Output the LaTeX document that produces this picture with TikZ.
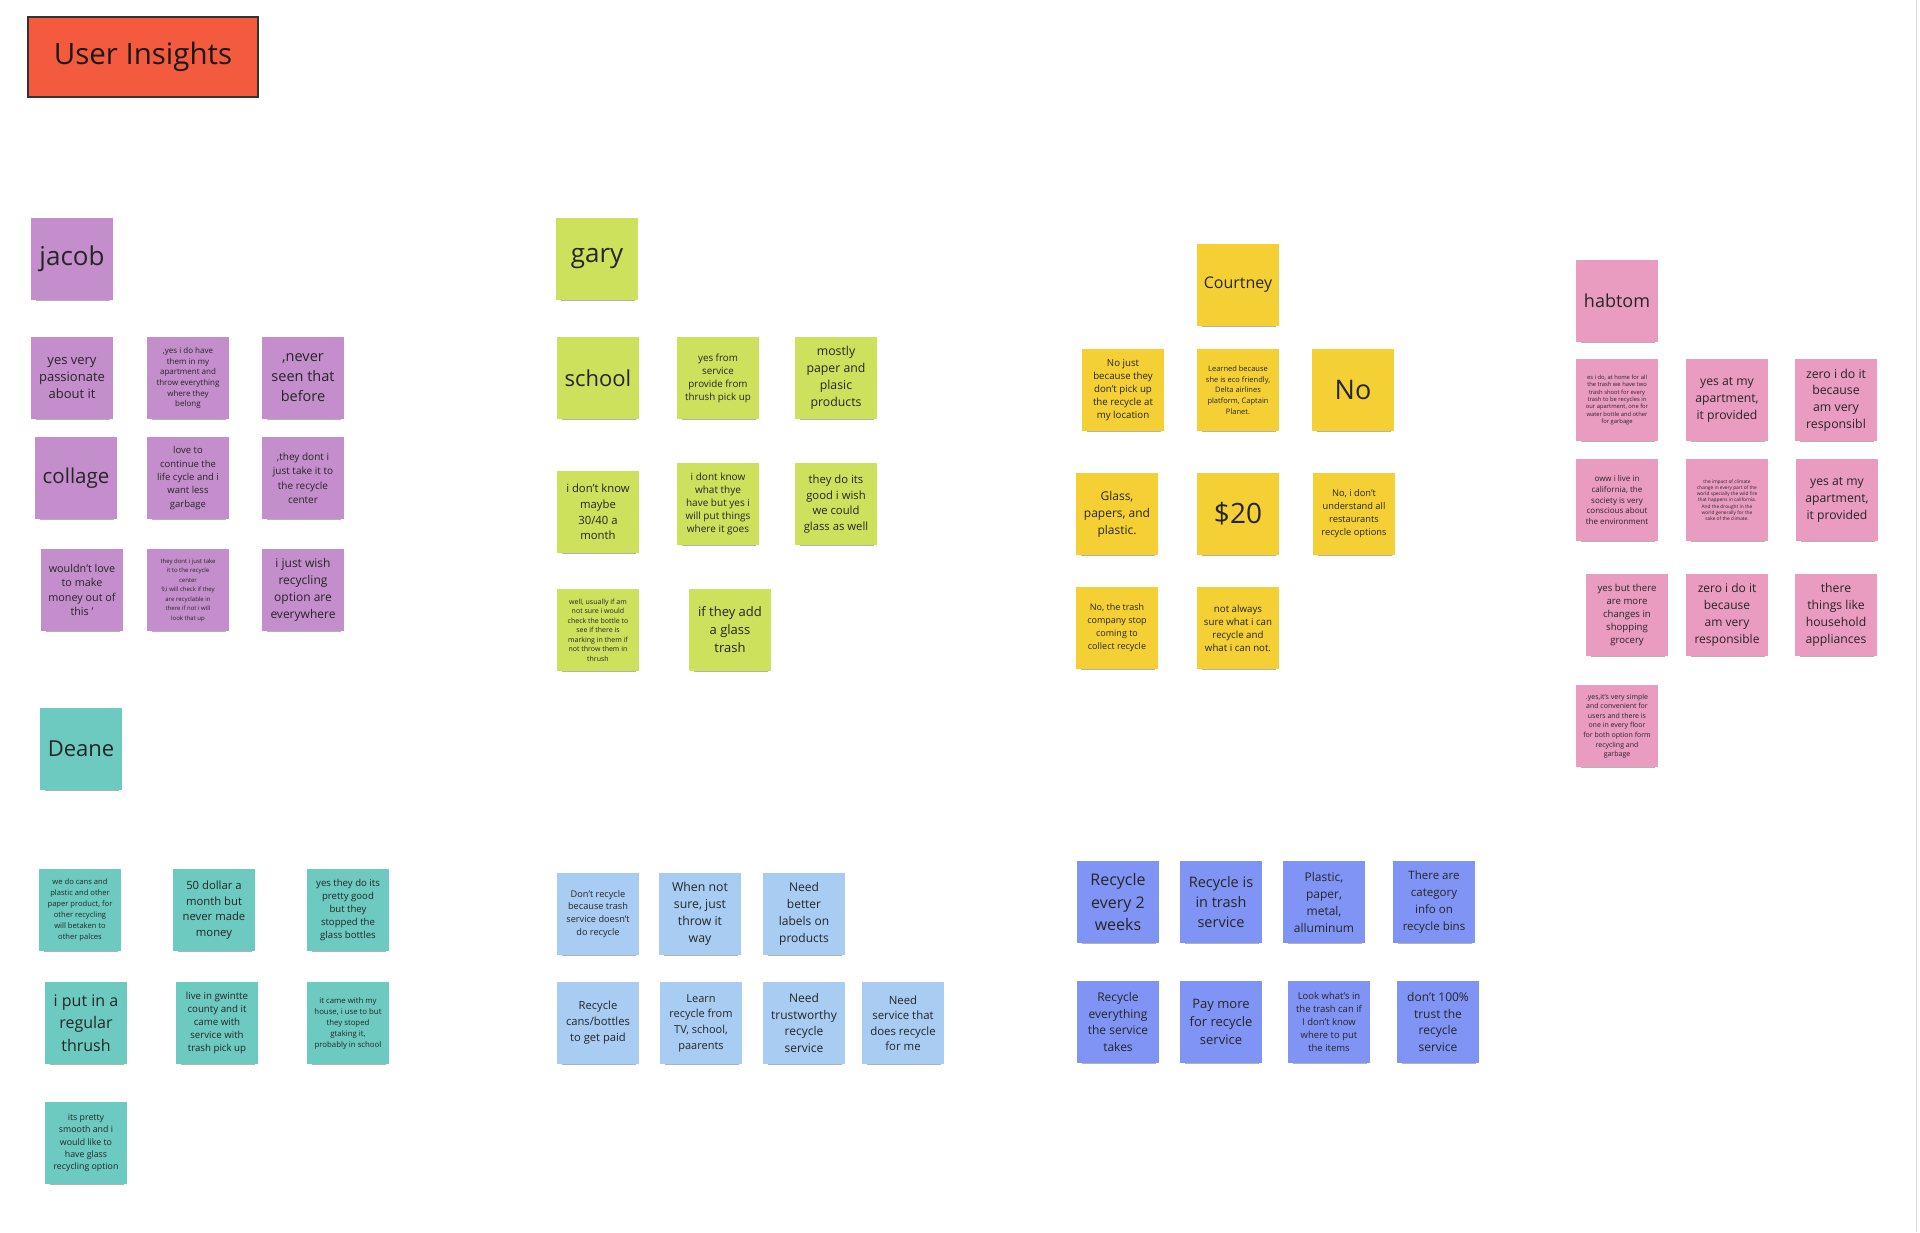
\documentclass[tikz,border=0pt]{standalone}
\usepackage{fontspec}
\setmainfont{Open Sans}
\usepackage{tikz}
\usetikzlibrary{shadows}
\definecolor{uiTitle}{RGB}{243,90,62}
\definecolor{uiPurple}{RGB}{196,141,204}
\definecolor{uiLime}{RGB}{205,225,92}
\definecolor{uiYellow}{RGB}{245,208,52}
\definecolor{uiPink}{RGB}{234,155,192}
\definecolor{uiTeal}{RGB}{108,202,193}
\definecolor{uiSky}{RGB}{168,204,242}
\definecolor{uiPeri}{RGB}{127,148,245}
\tikzset{
  note/.style={
    rectangle, fill=#1, draw=none,
    minimum width=82pt, minimum height=82pt,
    inner sep=1pt, align=center, text=black!85,
    drop shadow={shadow xshift=1pt, shadow yshift=-6pt, shadow scale=0.9,
                 opacity=0.3, fill=black}
  },
  txt/.style 2 args={font=\fontsize{#1pt}{#2pt}\selectfont},
  titlebox/.style={
    rectangle, fill=uiTitle, draw=black!80, line width=1.5pt,
    minimum width=230pt, minimum height=80pt,
    font=\fontsize{29.5pt}{32pt}\selectfont, text=black!90
  },
}

\begin{document}
\begin{tikzpicture}[x=1pt, y=-1pt]
  \useasboundingbox (0,0) rectangle (1920,1232);
  \draw[black!15, line width=1pt] (1916,0) -- (1916,1232);

  \node[titlebox] (title) at (143,57) {User Insights};

  % jacob
  \node[note=uiPurple, txt={26}{30}] (jacob) at (72,259)  {jacob};
  \node[note=uiPurple, txt={13}{17}] (jac1) at (72,378)  {yes very\\passionate\\about it};
  \node[note=uiPurple, txt={8}{10.7}]  (jac2) at (188,378) {,yes i do have\\them in my\\apartment and\\throw everything\\where they\\belong};
  \node[note=uiPurple, txt={14.5}{20}] (jac3) at (303,378) {,never\\seen that\\before};
  \node[note=uiPurple, txt={20.5}{24}] (jac4) at (76,478)  {collage};
  \node[note=uiPurple, txt={9.5}{13.3}] (jac5) at (188,478) {love to\\continue the\\life cycle and i\\want less\\garbage};
  \node[note=uiPurple, txt={10}{14.5}] (jac6) at (303,478) {,they dont i\\just take it to\\the recycle\\center};
  \node[note=uiPurple, txt={10.8}{14.5}] (jac7) at (82,590) {wouldn't love\\to make\\money out of\\this '};
  \node[note=uiPurple, txt={6}{9.5}]   (jac8) at (188,590) {they dont i just take\\it to the recycle\\center\\9,i will check if they\\are recyclable in\\there if not i will\\look that up};
  \node[note=uiPurple, txt={12}{17}]   (jac9) at (303,590) {i just wish\\recycling\\option are\\everywhere};

  % gary
  \node[note=uiLime, txt={26}{30}]    (gary) at (597,259) {gary};
  \node[note=uiLime, txt={22}{26}]    (gar1) at (598,378) {school};
  \node[note=uiLime, txt={9.8}{13}]   (gar2) at (718,378) {yes from\\service\\provide from\\thrush pick up};
  \node[note=uiLime, txt={12.3}{17}]  (gar3) at (836,378) {mostly\\paper and\\plasic\\products};
  \node[note=uiLime, txt={11.3}{15.7}] (gar4) at (598,512) {i don't know\\maybe\\30/40 a\\month};
  \node[note=uiLime, txt={10}{13}]    (gar5) at (718,504) {i dont know\\what thye\\have but yes i\\will put things\\where it goes};
  \node[note=uiLime, txt={11.3}{15.7}] (gar6) at (836,504) {they do its\\good i wish\\we could\\glass as well};
  \node[note=uiLime, txt={7}{9.5}]    (gar7) at (598,630) {well, usually if am\\not sure i would\\check the bottle to\\see if there is\\marking in them if\\not throw them in\\thrush};
  \node[note=uiLime, txt={13}{18}]    (gar8) at (730,630) {if they add\\a glass\\trash};

  % Courtney
  \node[note=uiYellow, txt={16}{20}]   (court) at (1238,285) {Courtney};
  \node[note=uiYellow, txt={9.7}{13}]  (cou1) at (1123,390) {No just\\because they\\don't pick up\\the recycle at\\my location};
  \node[note=uiYellow, txt={7.5}{10.8}] (cou2) at (1238,390) {Learned because\\she is eco friendly,\\Delta airlines\\platform, Captain\\Planet.};
  \node[note=uiYellow, txt={27}{30}]   (cou3) at (1353,390) {No};
  \node[note=uiYellow, txt={12}{17}]   (cou4) at (1117,514) {Glass,\\papers, and\\plastic.};
  \node[note=uiYellow, txt={28}{32}]   (cou5) at (1238,514) {\$20};
  \node[note=uiYellow, txt={9.3}{13}]  (cou6) at (1354,514) {No, i don't\\understand all\\restaurants\\recycle options};
  \node[note=uiYellow, txt={9}{13}]    (cou7) at (1117,628) {No, the trash\\company stop\\coming to\\collect recycle};
  \node[note=uiYellow, txt={9.7}{13}]  (cou8) at (1238,628) {not always\\sure what i can\\recycle and\\what i can not.};

  % habtom
  \node[note=uiPink, txt={18}{22}]    (habtom) at (1617,301) {habtom};
  \node[note=uiPink, txt={5.8}{7.4}]  (hab1) at (1617,400) {es i do, at home for all\\the trash we have two\\trash shoot for every\\trash to be recycles in\\our apartment, one for\\water bottle and other\\for garbage};
  \node[note=uiPink, txt={12.2}{16.7}] (hab2) at (1727,400) {yes at my\\apartment,\\it provided};
  \node[note=uiPink, txt={12.3}{16.7}] (hab3) at (1836,400) {zero i do it\\because\\am very\\responsibl};
  \node[note=uiPink, txt={8}{10.7}]   (hab4) at (1617,500) {oww i live in\\california, the\\society is very\\conscious about\\the environment};
  \node[note=uiPink, txt={4.8}{6.2}]  (hab5) at (1727,500) {the impact of climate\\change in every part of the\\world specially the wild fire\\that happens in california.\\And the drought in the\\world generally for the\\sake of the climate.};
  \node[note=uiPink, txt={12.2}{17}]  (hab6) at (1837,500) {yes at my\\apartment,\\it provided};
  \node[note=uiPink, txt={9.6}{13}]   (hab7) at (1627,615) {yes but there\\are more\\changes in\\shopping\\grocery};
  \node[note=uiPink, txt={12}{17}]    (hab8) at (1727,615) {zero i do it\\because\\am very\\responsible};
  \node[note=uiPink, txt={12.2}{17}]  (hab9) at (1836,615) {there\\things like\\household\\appliances};
  \node[note=uiPink, txt={7}{9.6}]    (hab10) at (1617,726) {.yes,it's very simple\\and convenient for\\users and there is\\one in every floor\\for both option form\\recycling and\\garbage};

  % Deane
  \node[note=uiTeal, txt={22}{26}]    (deane) at (81,749) {Deane};
  \node[note=uiTeal, txt={7.6}{10.9}] (dea1) at (80,910)  {we do cans and\\plastic and other\\paper product, for\\other recycling\\will betaken to\\other palces};
  \node[note=uiTeal, txt={11.3}{15.7}] (dea2) at (214,910) {50 dollar a\\month but\\never made\\money};
  \node[note=uiTeal, txt={9.6}{13}]   (dea3) at (348,910) {yes they do its\\pretty good\\but they\\stopped the\\glass bottles};
  \node[note=uiTeal, txt={16}{22.5}]  (dea4) at (86,1023) {i put in a\\regular\\thrush};
  \node[note=uiTeal, txt={9.7}{13}]   (dea5) at (217,1023) {live in gwintte\\county and it\\came with\\service with\\trash pick up};
  \node[note=uiTeal, txt={7.8}{11}]   (dea6) at (348,1023) {it came with my\\house, i use to but\\they stoped\\gtaking it,\\probably in school};
  \node[note=uiTeal, txt={8.8}{12.3}] (dea7) at (86,1143) {its pretty\\smooth and i\\would like to\\have glass\\recycling option};

  % light blue insights
  \node[note=uiSky, txt={9.2}{12.9}]  (sky1) at (598,914)  {Don't recycle\\because trash\\service doesn't\\do recycle};
  \node[note=uiSky, txt={12.3}{17}]   (sky2) at (700,914)  {When not\\sure, just\\throw it\\way};
  \node[note=uiSky, txt={12}{17}]     (sky3) at (804,914)  {Need\\better\\labels on\\products};
  \node[note=uiSky, txt={11.2}{16}]   (sky4) at (598,1023) {Recycle\\cans/bottles\\to get paid};
  \node[note=uiSky, txt={11}{15.7}]   (sky5) at (701,1023) {Learn\\recycle from\\TV, school,\\paarents};
  \node[note=uiSky, txt={12}{16.7}]   (sky6) at (804,1023) {Need\\trustworthy\\recycle\\service};
  \node[note=uiSky, txt={11.4}{15.5}] (sky7) at (903,1023) {Need\\service that\\does recycle\\for me};

  % periwinkle insights
  \node[note=uiPeri, txt={16}{22.5}]  (peri1) at (1118,902)  {Recycle\\every 2\\weeks};
  \node[note=uiPeri, txt={14.5}{20}]  (peri2) at (1221,902)  {Recycle is\\in trash\\service};
  \node[note=uiPeri, txt={12}{17}]    (peri3) at (1324,902)  {Plastic,\\paper,\\metal,\\alluminum};
  \node[note=uiPeri, txt={11.5}{16.8}] (peri4) at (1434,902) {There are\\category\\info on\\recycle bins};
  \node[note=uiPeri, txt={12}{16.8}]  (peri5) at (1118,1022) {Recycle\\everything\\the service\\takes};
  \node[note=uiPeri, txt={13}{17.7}]  (peri6) at (1221,1022) {Pay more\\for recycle\\service};
  \node[note=uiPeri, txt={9.5}{13}]   (peri7) at (1329,1022) {Look what's in\\the trash can if\\I don't know\\where to put\\the items};
  \node[note=uiPeri, txt={12}{16.8}]  (peri8) at (1438,1022) {don't 100\%\\trust the\\recycle\\service};
\end{tikzpicture}
\end{document}
